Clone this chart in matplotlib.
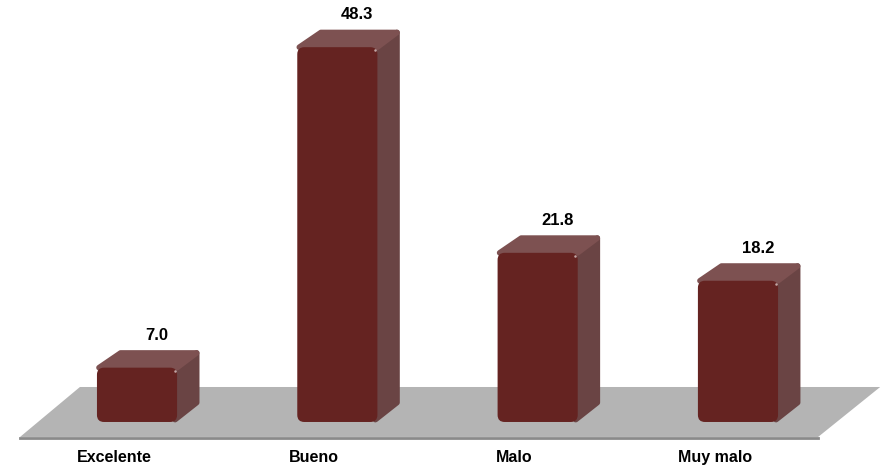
import numpy as np
import matplotlib.pyplot as plt
from matplotlib.patches import Polygon, FancyBboxPatch

categories = ['Excelente', 'Bueno', 'Malo', 'Muy malo']
values = [7.0, 48.3, 21.8, 18.2]

# colores de las caras
front_color = '#652321'
top_color = '#7d5151'
side_color = '#6a4444'
floor_color = '#b4b4b4'

plt.rcParams['font.family'] = ['Liberation Sans', 'DejaVu Sans']

fig = plt.figure(figsize=(8.83, 4.68), dpi=100)
ax = fig.add_axes([0, 0, 1, 1])
ax.set_xlim(-0.684, 3.724)
ax.set_ylim(-5.93, 54.38)
ax.axis('off')

# piso gris en perspectiva
floor = Polygon([(-0.584, -1.93), (3.40, -1.93), (3.71, 4.51), (-0.285, 4.51)],
                closed=True, facecolor=floor_color, edgecolor='none', zorder=1)
ax.add_patch(floor)
ax.plot([-0.584, 3.40], [-2.05, -2.05], color='#8a8a8a', lw=2, zorder=1)

w = 0.4     # ancho de barra
dx = 0.108  # profundidad en x
dy = 2.2    # profundidad en y
# relacion de escala entre ejes (para esquinas redondeadas)
aspect = 200.3 / 7.76

for i, v in enumerate(values):
    x0 = i - w / 2
    x1 = i + w / 2
    # caras lateral y superior, un poco encogidas para redondear con el borde
    side = Polygon([(x1 - 0.01, 0.3), (x1 + dx - 0.01, dy + 0.3),
                    (x1 + dx - 0.01, v + dy - 0.3), (x1 - 0.01, v - 0.3)],
                   closed=True, facecolor=side_color, edgecolor=side_color,
                   lw=4, joinstyle='round', zorder=2)
    top = Polygon([(x0 + 0.01, v), (x0 + dx + 0.01, v + dy - 0.3),
                   (x1 + dx - 0.01, v + dy - 0.3), (x1, v)],
                  closed=True, facecolor=top_color, edgecolor=top_color,
                  lw=4, joinstyle='round', zorder=2)
    ax.add_patch(side)
    ax.add_patch(top)
    front = FancyBboxPatch((x0, 0), w, v,
                           boxstyle='round,pad=0,rounding_size=0.035',
                           mutation_aspect=aspect,
                           facecolor=front_color, edgecolor='none', zorder=3)
    ax.add_patch(front)
    # brillo en la esquina superior derecha
    ax.plot(x1 - 0.012, v - 0.4, 'o', color='white', ms=1.8, alpha=0.6,
            markeredgewidth=0, zorder=4)

    ax.text(i + 0.1, v + dy + 1.95, f'{v:.1f}', ha='center', va='center',
            fontsize=12, fontweight='bold', color='black', zorder=5)
    ax.text(i - 0.115, -4.64, categories[i], ha='center', va='center',
            fontsize=11.5, fontweight='bold', color='black', zorder=5)

fig.savefig('out.png', dpi=100)
